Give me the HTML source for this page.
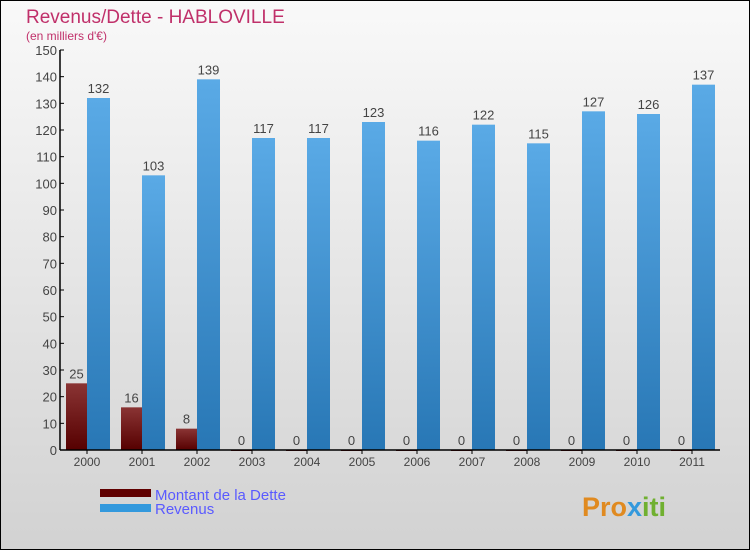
<!DOCTYPE html>
<html><head><meta charset="utf-8"><style>
body{margin:0;width:750px;height:550px;overflow:hidden;font-family:"Liberation Sans",sans-serif}
</style></head><body>
<svg id="chart" width="750" height="550" xmlns="http://www.w3.org/2000/svg">
<defs>
<linearGradient id="bg" x1="0" y1="0" x2="0" y2="1"><stop offset="0" stop-color="#f9f9f9"/><stop offset="1" stop-color="#d2d2d2"/></linearGradient>
<linearGradient id="gd" x1="0" y1="0" x2="0" y2="1"><stop offset="0" stop-color="#8a3434"/><stop offset="1" stop-color="#560000"/></linearGradient>
<linearGradient id="gr" x1="0" y1="0" x2="0" y2="1"><stop offset="0" stop-color="#5aaae6"/><stop offset="1" stop-color="#2877b5"/></linearGradient>
</defs>
<rect x="0.5" y="0.5" width="749" height="549" fill="url(#bg)" stroke="#000"/>
<text x="26" y="23" font-size="19" fill="#c0306a">Revenus/Dette - HABLOVILLE</text>
<text x="26" y="40" font-size="12" fill="#c0306a">(en milliers d'€)</text>
<g id="plot"></g>
<g>
<rect x="100" y="489" width="51" height="8" fill="#600000"/>
<text x="155" y="500" font-size="15" fill="#5a5aff">Montant de la Dette</text>
<rect x="100" y="504" width="51" height="8" fill="#3399dd"/>
<text x="155" y="514" font-size="15" fill="#5a5aff">Revenus</text>
</g>
<text x="582" y="516" font-size="27" font-weight="bold" fill="#e08a20">Pro<tspan fill="#3399dd">x</tspan><tspan fill="#70b030">iti</tspan></text>
</svg>
<script>
const years=["2000","2001","2002","2003","2004","2005","2006","2007","2008","2009","2010","2011"];
const debt=[25,16,8,0,0,0,0,0,0,0,0,0];
const revenue=[132,103,139,117,117,123,116,122,115,127,126,137];
const yTicks=[0,10,20,30,40,50,60,70,80,90,100,110,120,130,140,150];
const NS="http://www.w3.org/2000/svg";
const g=document.getElementById('plot');
const x0=60,step=55,y0=450,yMax=150,h=400;
const y=v=>y0-v/yMax*h;
const cx=i=>x0+27+i*step;
function mk(t,a){const e=document.createElementNS(NS,t);for(const k in a)e.setAttribute(k,a[k]);g.appendChild(e);return e;}
yTicks.forEach(v=>{
 const l=mk('line',{x1:x0,x2:x0+4,y1:y(v),y2:y(v),stroke:'#000'});
 
 
 const t=mk('text',{x:x0-3,y:y(v)+5,'font-size':13,'text-anchor':'end',fill:'#444'});t.textContent=v;
 
 
});
years.forEach((yr,i)=>{
 const c=cx(i);
 const d=mk('rect',{x:c-21,y:y(debt[i]),width:21,height:Math.max(debt[i]/yMax*h,1),fill:'url(#gd)'});
 
 
 const r=mk('rect',{x:c,y:y(revenue[i]),width:23,height:revenue[i]/yMax*h,fill:'url(#gr)'});
 
 
 const dl=mk('text',{x:c-10.5,y:y(debt[i])-5,'font-size':13,'text-anchor':'middle',fill:'#444'});dl.textContent=debt[i];
 
 
 const rl=mk('text',{x:c+11.5,y:y(revenue[i])-5,'font-size':13,'text-anchor':'middle',fill:'#444'});rl.textContent=revenue[i];
 
 
 const tk=mk('line',{x1:c,x2:c,y1:y0,y2:y0+4,stroke:'#000'});
 
 
 const xl=mk('text',{x:c,y:y0+16,'font-size':12,'text-anchor':'middle',fill:'#444'});xl.textContent=yr;
 
 
});
const ya=mk('line',{x1:x0,x2:x0,y1:y(150),y2:y0,stroke:'#000','stroke-width':1.5});


const xa=mk('line',{x1:x0,x2:x0+12*step,y1:y0,y2:y0,stroke:'#000','stroke-width':1.5});


</script>
</body></html>
